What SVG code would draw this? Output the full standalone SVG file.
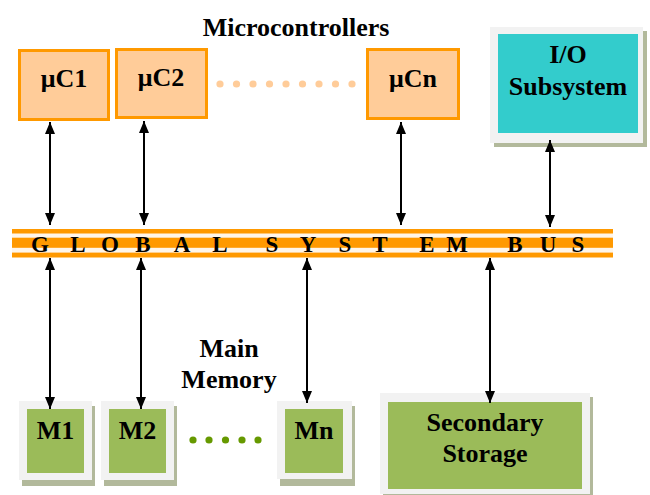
<svg xmlns="http://www.w3.org/2000/svg" width="650" height="495" viewBox="0 0 650 495">
<style>
text{font-family:"Liberation Serif","Times New Roman",serif;font-weight:bold;fill:#000}
.lbl{font-size:26px;text-anchor:middle}
.bus{font-size:23px;text-anchor:middle}
.uc{fill:#FFCC99;stroke:#FF9900;stroke-width:3}
.frame{fill:#F2F2F2}
.shadow{fill:#B2B99B}
.green{fill:#9BBB59}
.teal{fill:#33CCCC}
.conn{stroke:#000;stroke-width:2;fill:none;marker-start:url(#ah);marker-end:url(#ah)}
</style>
<defs>
<marker id="ah" markerUnits="userSpaceOnUse" markerWidth="12" markerHeight="10" refX="12" refY="5" orient="auto-start-reverse">
<path d="M0,0 L12,5 L0,10 z" fill="#000"/>
</marker>
</defs>
<rect width="650" height="495" fill="#fff"/>

<text class="lbl" x="296" y="36">Microcontrollers</text>

<g id="uC1">
<rect class="uc" x="19.5" y="50.5" width="89" height="69"/>
<text class="lbl" x="64" y="87">μC1</text>
</g>
<g id="uC2">
<rect class="uc" x="116.5" y="49.5" width="90" height="68"/>
<text class="lbl" x="161" y="86">μC2</text>
</g>
<g id="uC-dots" fill="#FFCC99">
<circle cx="220" cy="84" r="3.6"/><circle cx="236.5" cy="84" r="3.6"/><circle cx="253" cy="84" r="3.6"/>
<circle cx="269.5" cy="84" r="3.6"/><circle cx="286" cy="84" r="3.6"/><circle cx="302.5" cy="84" r="3.6"/>
<circle cx="319" cy="84" r="3.6"/><circle cx="335.5" cy="84" r="3.6"/><circle cx="352" cy="84" r="3.6"/>
</g>
<g id="uCn">
<rect class="uc" x="367.5" y="49.5" width="91" height="69"/>
<text class="lbl" x="413" y="87">μCn</text>
</g>

<g id="io">
<rect class="shadow" x="494" y="31" width="153" height="116"/>
<rect class="frame" x="490" y="27" width="153" height="116"/>
<rect class="teal" x="498" y="34" width="140" height="99"/>
<text class="lbl" x="568" y="63">I/O</text>
<text class="lbl" x="568" y="95">Subsystem</text>
</g>

<g id="bus">
<rect x="12" y="229" width="601" height="28.5" fill="#FF9900"/>
<rect x="12" y="233.5" width="601" height="4.2" fill="#FFF6EA"/>
<rect x="12" y="247.8" width="601" height="4.8" fill="#FFF6EA"/>
<text class="bus" y="252"><tspan x="40">G</tspan><tspan x="78">L</tspan><tspan x="110">O</tspan><tspan x="143">B</tspan><tspan x="182">A</tspan><tspan x="220">L</tspan><tspan x="272">S</tspan><tspan x="308">Y</tspan><tspan x="345">S</tspan><tspan x="380">T</tspan><tspan x="427">E</tspan><tspan x="457">M</tspan><tspan x="515">B</tspan><tspan x="548">U</tspan><tspan x="578">S</tspan></text>
</g>

<text class="lbl" x="229" y="357">Main</text>
<text class="lbl" x="229" y="388">Memory</text>

<g id="M1">
<rect class="shadow" x="22" y="406" width="73" height="80"/>
<rect class="frame" x="19" y="401" width="73" height="79"/>
<rect class="green" x="27" y="409" width="57" height="64"/>
<text class="lbl" x="55.5" y="439">M1</text>
</g>
<g id="M2">
<rect class="shadow" x="104" y="406" width="73" height="80"/>
<rect class="frame" x="101" y="401" width="73" height="79"/>
<rect class="green" x="109" y="409" width="57" height="64"/>
<text class="lbl" x="137.5" y="439">M2</text>
</g>
<g id="M-dots" fill="#669900">
<circle cx="193" cy="440" r="3.6"/><circle cx="209" cy="440" r="3.6"/><circle cx="225.5" cy="440" r="3.6"/>
<circle cx="242" cy="440" r="3.6"/><circle cx="258" cy="440" r="3.6"/>
</g>
<g id="Mn">
<rect class="shadow" x="280" y="406" width="75" height="80"/>
<rect class="frame" x="277" y="401" width="75" height="78"/>
<rect class="green" x="285" y="409" width="58" height="64"/>
<text class="lbl" x="314" y="439">Mn</text>
</g>
<g id="storage">
<rect class="shadow" x="383" y="397" width="210" height="98"/>
<rect class="frame" x="380" y="393" width="210" height="101"/>
<rect class="green" x="388" y="402" width="194" height="87"/>
<text class="lbl" x="485" y="431">Secondary</text>
<text class="lbl" x="485" y="462">Storage</text>
</g>

<g id="connectors">
<line class="conn" x1="50" y1="122" x2="50" y2="225"/>
<line class="conn" x1="144" y1="121" x2="144" y2="225"/>
<line class="conn" x1="401" y1="122" x2="401" y2="225"/>
<line class="conn" x1="550" y1="140" x2="550" y2="227"/>
<line class="conn" x1="50" y1="258" x2="50" y2="409"/>
<line class="conn" x1="141" y1="258" x2="141" y2="409"/>
<line class="conn" x1="307" y1="258" x2="307" y2="403"/>
<line class="conn" x1="490" y1="258" x2="490" y2="403"/>
</g>
</svg>
